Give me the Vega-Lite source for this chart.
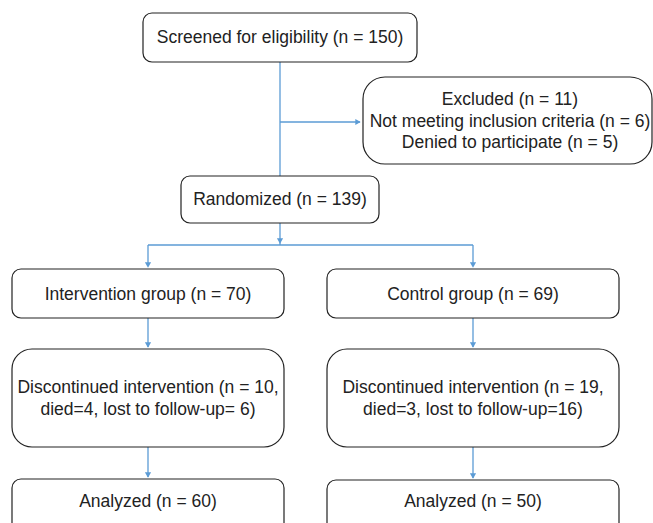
{
  "$schema": "https://vega.github.io/schema/vega-lite/v6.json",
  "width": 653,
  "height": 523,
  "padding": 0,
  "autosize": {"type": "none"},
  "background": "white",
  "config": {"view": {"stroke": null}},
  "datasets": {
    "boxesA": [
      {"id": "screened", "x": 143, "x2": 417, "y": 13, "y2": 62},
      {"id": "randomized", "x": 181, "x2": 379, "y": 176, "y2": 223},
      {"id": "intervention", "x": 12, "x2": 284, "y": 269, "y2": 318},
      {"id": "control", "x": 327, "x2": 619, "y": 269, "y2": 318},
      {"id": "analyzedI", "x": 12, "x2": 284, "y": 479, "y2": 540},
      {"id": "analyzedC", "x": 327, "x2": 619, "y": 480, "y2": 540}
    ],
    "boxesB": [
      {"id": "discI", "x": 12, "x2": 284, "y": 349, "y2": 447},
      {"id": "discC", "x": 327, "x2": 619, "y": 349, "y2": 447}
    ],
    "boxesC": [
      {"id": "excluded", "x": 363, "x2": 652, "y": 77, "y2": 164}
    ],
    "lines": [
      {"x": 280, "x2": 280, "y": 62, "y2": 176},
      {"x": 280, "x2": 360, "y": 122, "y2": 122},
      {"x": 280, "x2": 280, "y": 223, "y2": 245},
      {"x": 148, "x2": 473, "y": 245, "y2": 245},
      {"x": 148, "x2": 148, "y": 245, "y2": 266},
      {"x": 473, "x2": 473, "y": 245, "y2": 266},
      {"x": 148, "x2": 148, "y": 318, "y2": 347},
      {"x": 473, "x2": 473, "y": 318, "y2": 347},
      {"x": 148, "x2": 148, "y": 447, "y2": 477},
      {"x": 473, "x2": 473, "y": 447, "y2": 478}
    ],
    "arrows": [
      {"x": 358, "y": 122, "dir": "right"},
      {"x": 280, "y": 241, "dir": "down"},
      {"x": 148, "y": 265, "dir": "down"},
      {"x": 473, "y": 265, "dir": "down"},
      {"x": 148, "y": 345, "dir": "down"},
      {"x": 473, "y": 345, "dir": "down"},
      {"x": 148, "y": 475, "dir": "down"},
      {"x": 473, "y": 476, "dir": "down"}
    ],
    "labels": [
      {"x": 280, "y": 38, "text": "Screened for eligibility (n = 150)"},
      {"x": 510, "y": 100, "text": "Excluded (n = 11)\nNot meeting inclusion criteria (n = 6)\nDenied to participate (n = 5)"},
      {"x": 280, "y": 200, "text": "Randomized (n = 139)"},
      {"x": 148, "y": 295, "text": "Intervention group (n = 70)"},
      {"x": 473, "y": 295, "text": "Control group (n = 69)"},
      {"x": 148, "y": 388, "text": "Discontinued intervention (n = 10,\ndied=4, lost to follow-up= 6)"},
      {"x": 473, "y": 388, "text": "Discontinued intervention (n = 19,\ndied=3, lost to follow-up=16)"},
      {"x": 148, "y": 502, "text": "Analyzed (n = 60)"},
      {"x": 473, "y": 502, "text": "Analyzed (n = 50)"}
    ]
  },
  "encoding": {
    "x": {"field": "x", "type": "quantitative", "scale": {"domain": [0, 653], "nice": false, "zero": false}, "axis": null},
    "y": {"field": "y", "type": "quantitative", "scale": {"domain": [0, 523], "nice": false, "zero": false, "reverse": true}, "axis": null}
  },
  "layer": [
    {
      "data": {"name": "lines"},
      "mark": {"type": "rule", "color": "#5b9bd5", "strokeWidth": 1.3},
      "encoding": {
        "x2": {"field": "x2"},
        "y2": {"field": "y2"}
      }
    },
    {
      "data": {"name": "arrows"},
      "mark": {"type": "point", "filled": true, "color": "#5b9bd5", "size": 38, "opacity": 1},
      "encoding": {
        "shape": {"field": "dir", "type": "nominal", "scale": {"domain": ["down", "right"], "range": ["triangle-down", "triangle-right"]}, "legend": null}
      }
    },
    {
      "data": {"name": "boxesA"},
      "mark": {"type": "rect", "fill": "white", "stroke": "#222222", "strokeWidth": 1.2, "cornerRadius": 9, "clip": true},
      "encoding": {
        "x2": {"field": "x2"},
        "y2": {"field": "y2"}
      }
    },
    {
      "data": {"name": "boxesB"},
      "mark": {"type": "rect", "fill": "white", "stroke": "#222222", "strokeWidth": 1.2, "cornerRadius": 20},
      "encoding": {
        "x2": {"field": "x2"},
        "y2": {"field": "y2"}
      }
    },
    {
      "data": {"name": "boxesC"},
      "mark": {"type": "rect", "fill": "white", "stroke": "#222222", "strokeWidth": 1.2, "cornerRadius": 22},
      "encoding": {
        "x2": {"field": "x2"},
        "y2": {"field": "y2"}
      }
    },
    {
      "data": {"name": "labels"},
      "mark": {"type": "text", "font": "Liberation Sans", "fontSize": 17.5, "color": "#222222", "align": "center", "baseline": "middle", "lineBreak": "\n", "lineHeight": 21.5},
      "encoding": {
        "text": {"field": "text"}
      }
    }
  ]
}
